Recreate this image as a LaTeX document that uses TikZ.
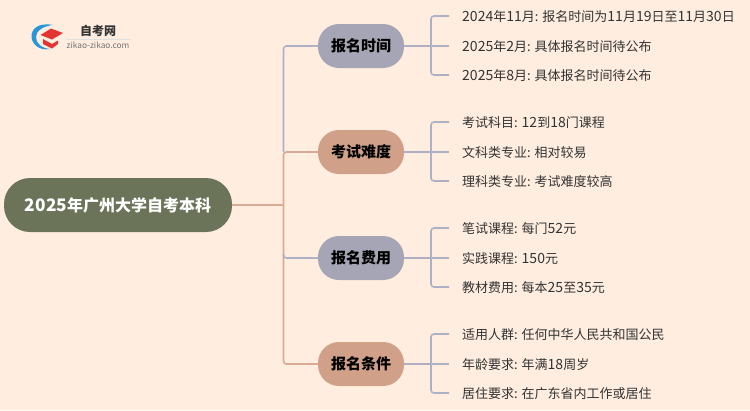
\documentclass[tikz,border=0pt]{standalone}
\usepackage{fontspec}
\setmainfont{Noto Sans CJK SC}
\newfontfamily\ltnf[Scale=1.08]{Noto Sans CJK SC}
\newcommand\ltn[1]{{\ltnf #1}}
\definecolor{bgc}{HTML}{FFEEE0}
\definecolor{greyfill}{HTML}{A5A5B5}
\definecolor{tanfill}{HTML}{D0A088}
\definecolor{rootfill}{HTML}{6B7358}
\definecolor{greyline}{HTML}{AEB0C6}
\definecolor{tanline}{HTML}{D8AC94}
\definecolor{txt}{HTML}{333333}
\definecolor{logoblue}{RGB}{40,150,215}
\definecolor{logored}{RGB}{226,52,48}
\tikzset{
 rootbox/.style={rounded corners=26pt,fill=rootfill,text=white,minimum width=228pt,minimum height=54pt,inner sep=0pt,font=\fontsize{16}{20}\selectfont\bfseries},
 branchbox/.style={rounded corners=21pt,minimum width=86pt,minimum height=44pt,inner sep=0pt,text=black,font=\fontsize{15}{18}\selectfont\bfseries},
 greybox/.style={branchbox,fill=greyfill},
 tanbox/.style={branchbox,fill=tanfill},
 leaf/.style={anchor=west,inner xsep=13pt,inner ysep=0pt,text height=13pt,text depth=1.6pt,text=txt,font=\fontsize{13}{16}\selectfont},
 gl/.style={draw=greyline,line width=1.6pt,rounded corners=3pt},
 tl/.style={draw=tanline,line width=1.6pt,rounded corners=3pt},
}
\begin{document}
\begin{tikzpicture}[x=1pt,y=-1pt]
\fill[bgc] (0,0) rectangle (750,410);
\useasboundingbox (0,0) rectangle (750,410);
\coordinate (tr1) at (283.5,152);
\coordinate (tr2) at (283.5,205);
\node[rootbox] (root) at (118,205) {{\ltnf\bfseries 2025}年广州大学自考本科};
\node[greybox] (b1) at (361,46) {报名时间};
\node[tanbox] (b2) at (361,152) {考试难度};
\node[greybox] (b3) at (361,258) {报名费用};
\node[tanbox] (b4) at (361,364) {报名条件};
\node[leaf] (a1) at (449,16) {\ltn{2024}年\ltn{11}月: 报名时间为\ltn{11}月\ltn{19}日至\ltn{11}月\ltn{30}日};
\node[leaf] (a2) at (449,46) {\ltn{2025}年\ltn{2}月: 具体报名时间待公布};
\node[leaf] (a3) at (449,75) {\ltn{2025}年\ltn{8}月: 具体报名时间待公布};
\node[leaf] (c1) at (449,122) {考试科目: \ltn{12}到\ltn{18}门课程};
\node[leaf] (c2) at (449,152) {文科类专业: 相对较易};
\node[leaf] (c3) at (449,181) {理科类专业: 考试难度较高};
\node[leaf] (d1) at (449,228) {笔试课程: 每门\ltn{52}元};
\node[leaf] (d2) at (449,258) {实践课程: \ltn{150}元};
\node[leaf] (d3) at (449,287) {教材费用: 每本\ltn{25}至\ltn{35}元};
\node[leaf] (e1) at (449,334) {适用人群: 任何中华人民共和国公民};
\node[leaf] (e2) at (449,364) {年龄要求: 年满\ltn{18}周岁};
\node[leaf] (e3) at (449,393) {居住要求: 在广东省内工作或居住};
% trunk
\draw[gl] (b1.west) -- (283.5,46) -- (tr1);
\draw[tl] (root.east) -- (tr2);
\draw[tl] (b2.west) -- (283.5,152) -- (tr2);
\draw[tl] (b4.west) -- (283.5,364) -- (tr2);
\draw[gl] (b3.west) -- (283.5,258) -- ++(0,-4);
% leaves
\foreach \b/\p/\q/\r in {b1/a1/a2/a3,b2/c1/c2/c3,b3/d1/d2/d3,b4/e1/e2/e3}{
 \draw[gl] (\b.east) -- (\q.west);
 \draw[gl] (\p.west) -| (431,0 |- \q.west) |- (\r.west);
}
% logo
\path[fill=logoblue] (53,25) .. controls (37,22) and (31,30) .. (31.5,37) .. controls (32,44) and (39,51) .. (50,49) .. controls (41,48) and (36,43) .. (36,37) .. controls (36,31) and (43,26) .. (53,25) -- cycle;
\path[fill=logored] (40.5,35) -- (51,28.5) -- (63,33) -- (52,39.5) -- cycle;
\path[fill=logored] (43,39) -- (52,44) -- (58,40.5) -- (58,44) -- (52,48.5) -- (43,44) -- cycle;
\node[inner sep=0pt,text=black!80,font=\fontsize{12}{14}\selectfont\bfseries] (lt) at (98,30.5) {自考网};
\draw[black!12,line width=.5pt] (66,39.3) -- (131,39.3);
\node[inner sep=0pt,text=black!55,font=\fontsize{8.3}{10}\selectfont] (lu) at (98,45) {zikao-zikao.com};
\end{tikzpicture}
\end{document}
